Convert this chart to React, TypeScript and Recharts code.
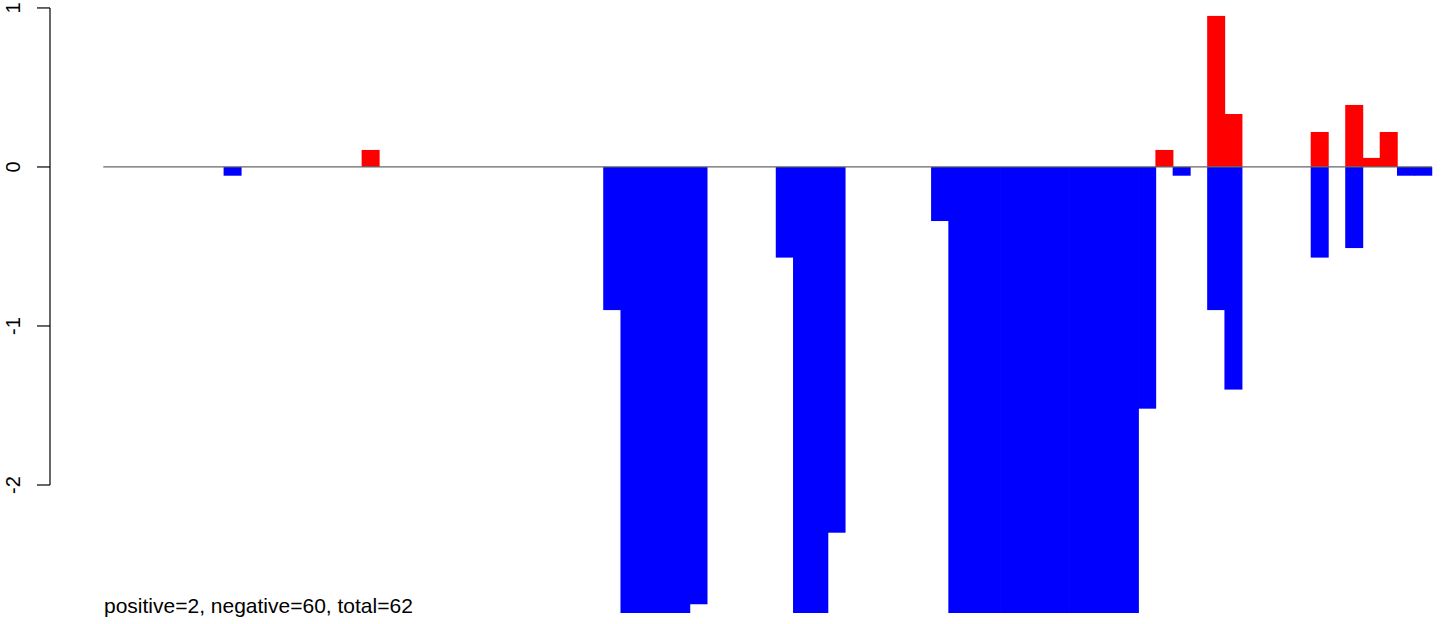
import { BarChart, Bar, XAxis, YAxis, ReferenceLine } from 'recharts'

// one category per position along the track
const positions = Array.from({ length: 77 }, (_, i) => i + 1)

const positiveValues = [
    0, 0, 0, 0, 0, 0, 0, 0, 0, 0, 0,
    0, 0, 0, 0, 0.107, 0, 0, 0, 0, 0, 0,
    0, 0, 0, 0, 0, 0, 0, 0, 0, 0, 0,
    0, 0, 0, 0, 0, 0, 0, 0, 0, 0, 0,
    0, 0, 0, 0, 0, 0, 0, 0, 0, 0, 0,
    0, 0, 0, 0, 0, 0, 0.107, 0, 0, 0.95, 0.333,
    0, 0, 0, 0, 0.22, 0, 0.39, 0.057, 0.22, 0, 0,
]

const negativeValues = [
    0, 0, 0, 0, 0, 0, 0, -0.055, 0, 0, 0,
    0, 0, 0, 0, 0, 0, 0, 0, 0, 0, 0,
    0, 0, 0, 0, 0, 0, 0, -0.9, -2.9, -2.9, -2.9,
    -2.9, -2.75, 0, 0, 0, 0, -0.57, -2.9, -2.9, -2.3, 0,
    0, 0, 0, 0, -0.34, -2.9, -2.9, -2.9, -2.9, -2.9, -2.9,
    -2.9, -2.9, -2.9, -2.9, -2.9, -1.52, 0, -0.055, 0, -0.9, -1.4,
    0, 0, 0, 0, -0.57, 0, -0.51, 0, 0, -0.055, -0.055,
]

const yTicks = [-2, -1, 0, 1]
const yMin = -2.805
const yMax = 1.05
const summary = 'positive=2, negative=60, total=62'

const data = positions.map((pos, i) => ({
    pos,
    up: positiveValues[i],
    down: negativeValues[i],
}))

const W = 1444
const H = 624
const MARGIN = { top: 0, right: 12, bottom: 11, left: 0 }
const AXIS_W = 103.3
const PLOT_H = H - MARGIN.top - MARGIN.bottom
const PX_PER_UNIT = PLOT_H / (yMax - yMin)
const FONT = '"Liberation Sans", Arial, Helvetica, sans-serif'

// R style axis: line runs only between first and last tick
const RTick = (props: any) => {
    const { y, payload } = props
    const v = payload.value
    const lineX = 50
    const labelX = 20
    return (
        <g>
            <line x1={lineX - 13} x2={lineX} y1={y} y2={y} stroke="#000" strokeWidth={1.2} />
            {v < yTicks[yTicks.length - 1] && (
                <line x1={lineX} x2={lineX} y1={y} y2={y - PX_PER_UNIT} stroke="#000" strokeWidth={1.2} />
            )}
            <text
                x={labelX}
                y={y}
                transform={`rotate(-90 ${labelX} ${y})`}
                textAnchor="middle"
                fontSize={20}
                fontFamily={FONT}
                fill="#000"
            >
                {v}
            </text>
        </g>
    )
}

// plain rect, widened half a pixel each side so neighbours touch without seams
const SolidBar = (props: any) => {
    const { x, y, width, height, fill } = props
    const h = Math.abs(height)
    if (!h || !width) return null
    const top = Math.min(y, y + height)
    return <rect x={x - 0.5} y={top} width={width + 1} height={h} fill={fill} />
}

const App = () => {
    return (
        <div style={{ position: 'absolute', left: 0, top: 0, width: W, height: H, background: '#fff' }}>
            <BarChart
                width={W}
                height={H}
                data={data}
                margin={MARGIN}
                barCategoryGap={0}
                barGap={0}
                stackOffset="sign"
            >
                <XAxis dataKey="pos" hide padding={{ left: 0, right: 0 }} />
                <YAxis
                    width={AXIS_W}
                    domain={[yMin, yMax]}
                    allowDataOverflow
                    ticks={yTicks}
                    interval={0}
                    axisLine={false}
                    tickLine={false}
                    tick={<RTick />}
                />
                <Bar dataKey="up" stackId="s" fill="#ff0000" shape={<SolidBar />} isAnimationActive={false} />
                <Bar dataKey="down" stackId="s" fill="#0000ff" shape={<SolidBar />} isAnimationActive={false} />
                <ReferenceLine y={0} stroke="#666" strokeWidth={1.2} />
            </BarChart>
            <svg width={W} height={H} style={{ position: 'absolute', left: 0, top: 0, pointerEvents: 'none' }}>
                <text x={104} y={613} fontSize={21} fontFamily={FONT} fill="#000">
                    {summary}
                </text>
            </svg>
        </div>
    )
}

export default App
